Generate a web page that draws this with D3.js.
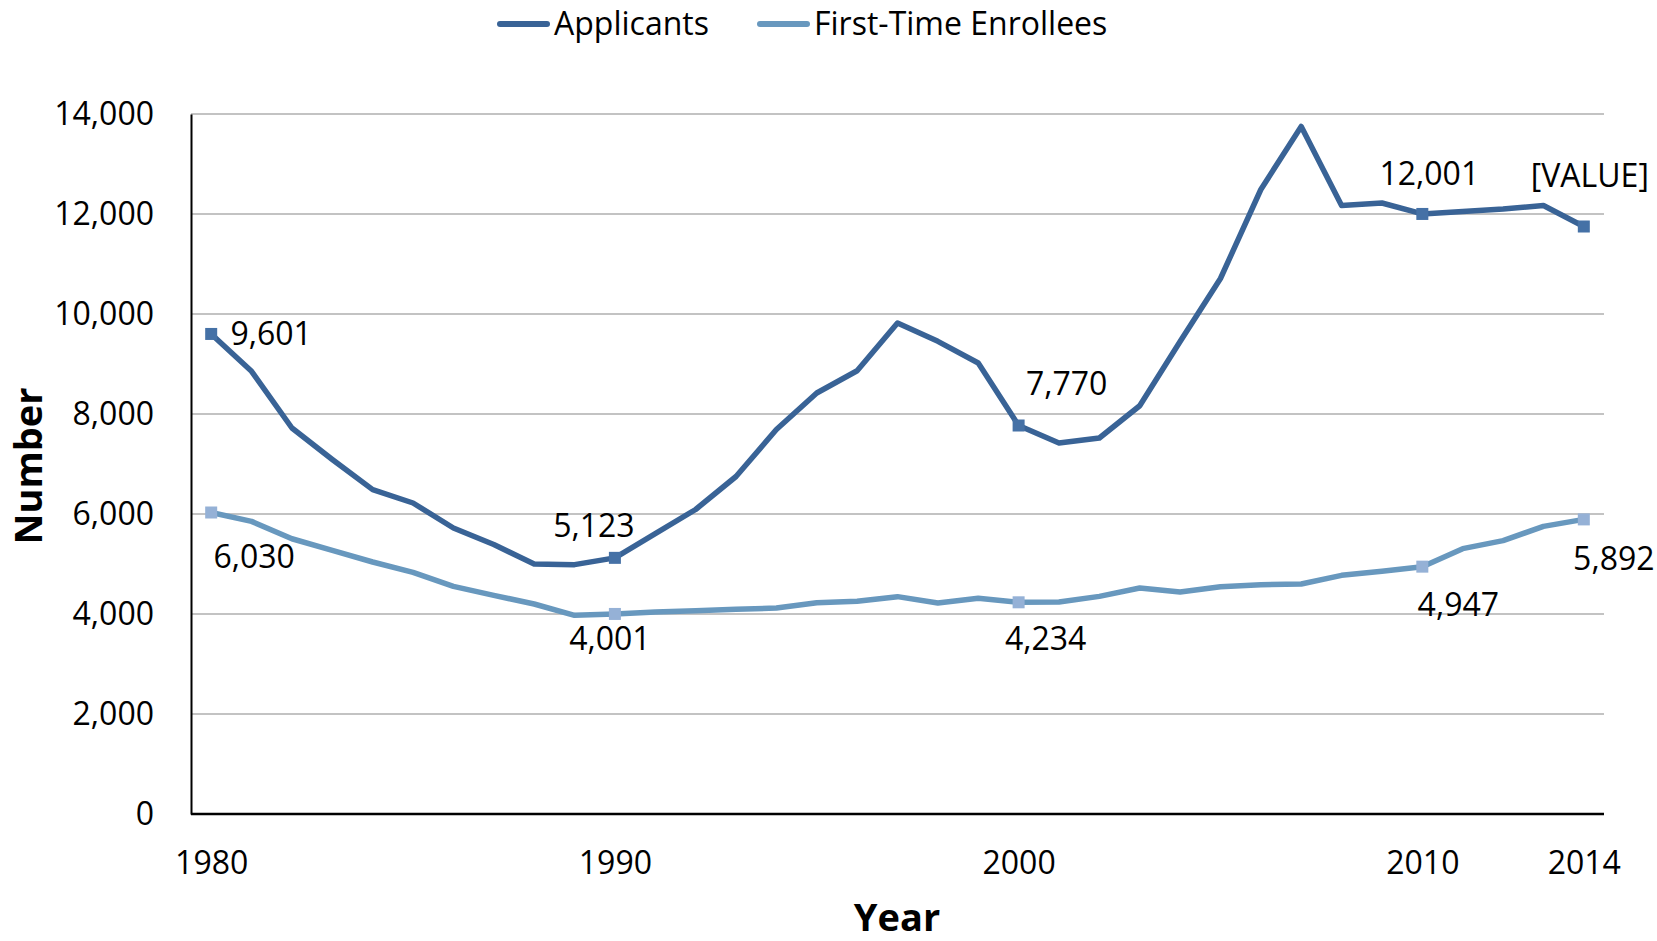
<!DOCTYPE html>
<html><head><meta charset="utf-8">
<script src="https://cdn.jsdelivr.net/npm/d3@7"></script>
<style>html,body{margin:0;padding:0;background:#fff;}svg{display:block;}</style>
</head><body><svg id="c" width="1657" height="941"></svg>
<script>
const years = d3.range(1980, 2015);
const applicants = [9601,8853,7720,7090,6487,6220,5720,5390,5000,4987,5123,5607,6090,6750,7690,8420,8865,9820,9453,9020,7770,7420,7520,8165,9450,10710,12490,13750,12170,12220,12001,12050,12100,12170,11750];
const enrollees = [6030,5853,5505,5273,5040,4833,4553,4373,4200,3973,4001,4040,4067,4093,4120,4227,4253,4347,4220,4313,4234,4240,4353,4520,4440,4547,4587,4600,4773,4853,4947,5307,5467,5753,5892];
const yTicks = [0,2000,4000,6000,8000,10000,12000,14000];
const xTickYears = [1980,1990,2000,2010,2014];
const seriesNames = ["Applicants","First-Time Enrollees"];
const markerYears = [1980,1990,2000,2010,2014];
const labelTexts = [["9,601","5,123","7,770","12,001","[VALUE]"],["6,030","4,001","4,234","4,947","5,892"]];

const colors = ["#396396","#6898be"];
const markerColors = ["#4571a6","#95b1d6"];
// label offsets (dx, dy of label centre from point), per series per marker
const labelOff = [
  [[60,0],[-21,-32],[48,-42],[7,-40],[6,-51]],
  [[43,44],[-5,25],[27,36],[36,38],[30,39]]
];

const svg = d3.select("#c");
const font = "'Open Sans', sans-serif";
const L=191, R=1604, T=114, B=814;
const x = d3.scalePoint().domain(years).range([L,R]).padding(0.5);
const y = d3.scaleLinear().domain([0,14000]).range([B,T]);

// gridlines
svg.append("g").selectAll("line").data(yTicks.filter(d=>d>0)).join("line")
  .attr("x1",L).attr("x2",R).attr("y1",d=>y(d)).attr("y2",d=>y(d))
  .attr("stroke","#c3c3c3").attr("stroke-width",2);

// y axis
const yAxis = d3.axisLeft(y).tickValues(yTicks).tickFormat(d3.format(",")).tickSize(0).tickPadding(37);
const gy = svg.append("g").attr("transform",`translate(${L},0)`).call(yAxis);
gy.select(".domain").attr("stroke","#000").attr("stroke-width",2);
gy.selectAll("text").attr("font-family",font).attr("font-size",32).attr("fill","#000");

// x axis
const xAxis = d3.axisBottom(x).tickValues(xTickYears).tickSize(0).tickPadding(37);
const gx = svg.append("g").attr("transform",`translate(0,${B})`).call(xAxis);
gx.select(".domain").attr("stroke","#000").attr("stroke-width",2.5).attr("d",`M${L},0H${R}`);
gx.selectAll("text").attr("font-family",font).attr("font-size",32).attr("fill","#000");

// lines
const line = d3.line().x((d,i)=>x(years[i])).y(d=>y(d));
[applicants,enrollees].forEach((s,k)=>{
  svg.append("path").datum(s).attr("d",line).attr("fill","none")
    .attr("stroke",colors[k]).attr("stroke-width",5.5).attr("stroke-linejoin","round");
});
// markers & labels
[applicants,enrollees].forEach((s,k)=>{
  markerYears.forEach((yr,j)=>{
    const v = s[years.indexOf(yr)];
    const px = x(yr), py = y(v);
    svg.append("rect").attr("x",px-6).attr("y",py-6).attr("width",12).attr("height",12).attr("fill",markerColors[k]);
    const o = labelOff[k][j];
    svg.append("text").attr("x",px+o[0]).attr("y",py+o[1]).attr("dy","0.35em")
      .attr("text-anchor","middle").attr("font-family",font).attr("font-size",32).attr("fill","#000")
      .text(labelTexts[k][j]);
  });
});

// legend
const legX = [497,757];
seriesNames.forEach((n,k)=>{
  svg.append("line").attr("x1",legX[k]+3).attr("x2",legX[k]+50).attr("y1",24).attr("y2",24)
    .attr("stroke",colors[k]).attr("stroke-width",6).attr("stroke-linecap","round");
  svg.append("text").attr("x",legX[k]+57).attr("y",24).attr("dy","0.35em")
    .attr("font-family",font).attr("font-size",32).attr("fill","#000").text(n);
});

// axis titles
svg.append("text").attr("transform","translate(29,466) rotate(-90)").attr("dy","0.35em")
  .attr("text-anchor","middle").attr("font-family",font).attr("font-weight","bold").attr("font-size",38).text("Number");
svg.append("text").attr("x",897).attr("y",918).attr("dy","0.35em")
  .attr("text-anchor","middle").attr("font-family",font).attr("font-weight","bold").attr("font-size",38).text("Year");
</script></body></html>
